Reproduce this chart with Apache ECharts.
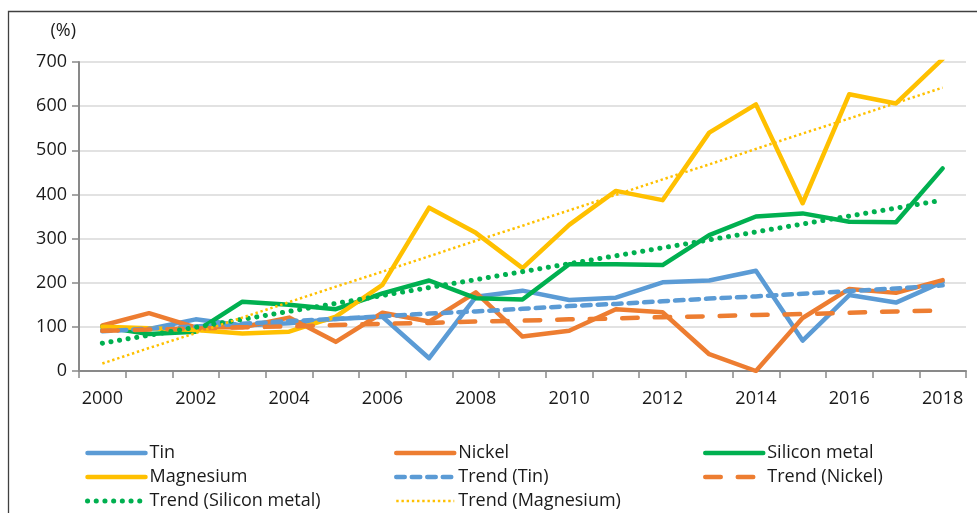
<!DOCTYPE html>
<html>
<head>
<meta charset="utf-8">
<script src="https://cdn.jsdelivr.net/npm/echarts@6/dist/echarts.min.js"></script>
<style>
  html, body { margin: 0; padding: 0; background: #fff; }
  #chart { width: 977px; height: 513px; }
</style>
</head>
<body>
<div id="chart"></div>
<script>
const years = ['2000', '2001', '2002', '2003', '2004', '2005', '2006', '2007', '2008', '2009',
  '2010', '2011', '2012', '2013', '2014', '2015', '2016', '2017', '2018']

// index 2000 = 100
const tin = [93, 95, 117, 103, 108, 118, 123, 29, 168, 182, 161, 166, 201, 205, 227, 69, 172, 155, 202]
const nickel = [103, 131, 99, 99, 121, 66, 132, 112, 178, 78, 91, 140, 133, 38, 0, 120, 186, 177, 206]
const silicon = [100, 84, 89, 157, 150, 140, 176, 205, 165, 162, 242, 242, 240, 308, 350, 357, 338, 337, 459]
const magnesium = [100, 97, 93, 85, 89, 123, 195, 370, 313, 233, 331, 408, 387, 540, 604, 380, 627, 606, 707]

// trend lines as drawn
const trendTin = [90, 96, 101, 107, 113, 118, 124, 130, 135, 141, 147, 152, 158, 164, 169, 175, 181, 187, 194]
const trendNickel = [91, 94, 96, 99, 101, 104, 107, 109, 112, 114, 117, 119, 122, 124, 127, 129, 132, 135, 137]
const trendSilicon = [63, 81, 99, 117, 135, 153, 171, 189, 207, 225, 243, 261, 279, 297, 315, 333, 351, 369, 387]
const trendMagnesium = [17, 52, 86, 121, 156, 191, 225, 260, 295, 329, 364, 399, 434, 468, 503, 538, 572, 607, 642]

const yTicks = { min: 0, max: 700, interval: 100 }

const BLUE = '#5B9BD5'
const ORANGE = '#ED7D31'
const GREEN = '#00B050'
const YELLOW = '#FFC000'
const FONT = '"Open Sans", "Noto Sans", sans-serif'

// line styles shared by the series and their legend icons
const styles = {
  'Tin': { width: 4.5, color: BLUE, type: 'solid', cap: 'round' },
  'Nickel': { width: 4.5, color: ORANGE, type: 'solid', cap: 'round' },
  'Silicon metal': { width: 4.5, color: GREEN, type: 'solid', cap: 'round' },
  'Magnesium': { width: 4.5, color: YELLOW, type: 'solid', cap: 'round' },
  'Trend (Tin)': { width: 4.5, color: BLUE, type: [8.5, 7], cap: 'round' },
  'Trend (Nickel)': { width: 4.5, color: ORANGE, type: [15.5, 17], cap: 'round' },
  'Trend (Silicon metal)': { width: 5, color: GREEN, type: [0.1, 8.6], cap: 'round' },
  'Trend (Magnesium)': { width: 2.5, color: YELLOW, type: [2.4, 2.8], cap: 'butt' }
}

function line(name, data) {
  const st = styles[name]
  return {
    name: name,
    type: 'line',
    data: data,
    symbol: 'none',
    silent: true,
    animation: false,
    lineStyle: Object.assign({ join: 'round' }, st),
    itemStyle: { color: st.color }
  }
}

function legendCol(left, names) {
  return {
    left: left,
    top: 443,
    orient: 'vertical',
    padding: 0,
    itemWidth: 58,
    itemHeight: 14,
    itemGap: 4,
    selectedMode: false,
    itemStyle: { opacity: 0 },
    data: names.map((n) => ({
      name: n,
      itemStyle: { opacity: 0 },
      lineStyle: Object.assign({}, styles[n])
    })),
    textStyle: { fontFamily: FONT, fontSize: 18, color: '#1a1a1a', lineHeight: 20, padding: [0, 0, 0, -1] }
  }
}

const chart = echarts.init(document.getElementById('chart'))

chart.setOption({
  animation: false,
  textStyle: { fontFamily: FONT },
  graphic: [{
    type: 'rect',
    silent: true,
    shape: { x: 8.5, y: 11.5, width: 1000, height: 600 },
    style: { fill: 'none', stroke: '#404040', lineWidth: 1.3 }
  }],
  grid: { left: 79, right: 11, top: 62, bottom: 142 },
  legend: [
    legendCol(85, ['Tin', 'Magnesium', 'Trend (Silicon metal)']),
    legendCol(394, ['Nickel', 'Trend (Tin)', 'Trend (Magnesium)']),
    legendCol(703, ['Silicon metal', 'Trend (Nickel)'])
  ],
  xAxis: {
    type: 'category',
    data: years,
    boundaryGap: true,
    axisLine: { lineStyle: { color: '#898989', width: 2 } },
    axisTick: { show: true, interval: 0, length: 7, lineStyle: { color: '#898989', width: 1.5 } },
    axisLabel: { interval: 1, margin: 19, fontSize: 18, color: '#1a1a1a', fontFamily: FONT }
  },
  yAxis: {
    type: 'value',
    min: yTicks.min,
    max: yTicks.max,
    interval: yTicks.interval,
    name: '(%)',
    nameLocation: 'end',
    nameGap: 22,
    nameTextStyle: { fontSize: 18, color: '#1a1a1a', fontFamily: FONT, align: 'right', padding: [0, 3, 0, 0] },
    axisLine: { show: true, lineStyle: { color: '#898989', width: 2 } },
    axisTick: { show: true, length: 7, lineStyle: { color: '#898989', width: 1.5 } },
    axisLabel: { margin: 12, fontSize: 18, color: '#1a1a1a', fontFamily: FONT },
    splitLine: { lineStyle: { color: '#D9D9D9', width: 1.5 } }
  },
  series: [
    line('Tin', tin),
    line('Nickel', nickel),
    line('Silicon metal', silicon),
    line('Magnesium', magnesium),
    line('Trend (Tin)', trendTin),
    line('Trend (Nickel)', trendNickel),
    line('Trend (Silicon metal)', trendSilicon),
    line('Trend (Magnesium)', trendMagnesium)
  ]
})
</script>
</body>
</html>
